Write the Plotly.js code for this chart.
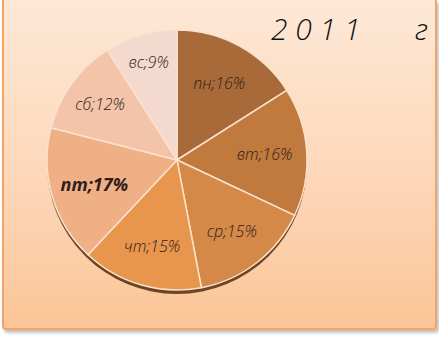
<!DOCTYPE html>
<html>
<head>
<meta charset="utf-8">
<script src="https://cdn.plot.ly/plotly-3.0.1.min.js"></script>
<style>
  html, body { margin:0; padding:0; width:439px; height:338px; overflow:hidden; background:#ffffff; }
  #frame { position:absolute; left:2px; top:0px; width:431px; height:328px;
           border:2px solid #f2a466; border-top:none; border-radius:0 0 4px 4px;
           background:linear-gradient(to bottom, #fde8d6 0%, #fdd9bc 50%, #fbc597 100%);
           box-shadow:2px 3px 3px rgba(120,120,120,0.45); }
  #chart { position:absolute; left:0; top:0; width:439px; height:338px; }
</style>
</head>
<body>
<div id="frame"></div>
<div id="chart"></div>
<script>
const categories = ["пн", "вт", "ср", "чт", "пт", "сб", "вс"];
const percents = [16, 16, 15, 15, 17, 12, 9];
const sliceColors = ["#a96a3a", "#c07a3e", "#d48948", "#e8964e", "#f0b086", "#f4c4aa", "#f4dace"];
const titleText = "2\u00a00\u00a01\u00a01\u00a0\u00a0\u00a0\u00a0\u00a0\u00a0\u00a0г";

const labelTexts = categories.map((c, i) => c + ";" + percents[i] + "%");
const fontFamily = "'Open Sans', 'Noto Sans', sans-serif";

const dx = [47/439, 307/439];
const dy = [(338-290)/338, (338-30)/338];
const off = 4/338;

const shadow = {
  type: "pie", values: [1], labels: ["shadow"], sort: false,
  marker: { colors: ["#6e4424"], line: { width: 0 } },
  textinfo: "none", hoverinfo: "skip", showlegend: false,
  domain: { x: dx, y: [dy[0]-off, dy[1]-off] }
};

const pie = {
  type: "pie",
  values: percents,
  labels: categories,
  text: labelTexts,
  sort: false,
  direction: "clockwise",
  rotation: 0,
  textinfo: "text",
  textposition: "inside",
  insidetextorientation: "horizontal",
  marker: { colors: sliceColors, line: { color: "#fbe2cc", width: 1.5 } },
  insidetextfont: {
    family: fontFamily, size: categories.map(c => c === "пт" ? 18 : 16), color: "#2e2018", style: "italic",
    weight: categories.map(c => c === "пт" ? 700 : 300)
  },
  showlegend: false,
  hoverinfo: "label+percent",
  domain: { x: dx, y: dy }
};

const layout = {
  width: 439, height: 338,
  margin: { l: 0, r: 0, t: 0, b: 0 },
  paper_bgcolor: "rgba(0,0,0,0)",
  plot_bgcolor: "rgba(0,0,0,0)",
  showlegend: false,
  title: {
    text: titleText,
    x: 0.975, xanchor: "right", xref: "paper",
    y: 0.945, yanchor: "top", yref: "container",
    font: { family: fontFamily, size: 30, color: "#111111", style: "italic", weight: 300 }
  }
};

Plotly.newPlot("chart", [shadow, pie], layout, { displayModeBar: false, staticPlot: true });
</script>
</body>
</html>
